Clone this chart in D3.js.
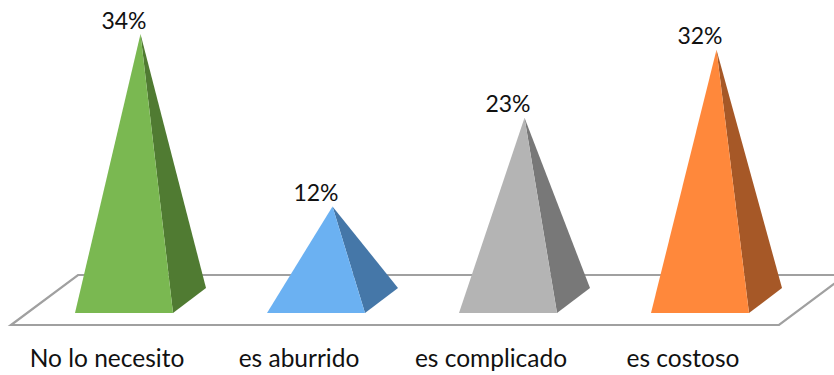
<!DOCTYPE html>
<html>
<head>
<meta charset="utf-8">
<script src="https://cdn.jsdelivr.net/npm/d3@7"></script>
<style>html,body{margin:0;padding:0;background:#fff}svg{display:block}</style>
</head>
<body>
<svg id="c" width="834" height="375"></svg>
<script>
const categories = ["No lo necesito", "es aburrido", "es complicado", "es costoso"];
const values = [34, 12, 23.3, 32];
const frontColors = ["#7ab851", "#6bb1f2", "#b4b4b4", "#ff883b"];
const sideColors = ["#507b32", "#4577a8", "#787878", "#a65827"];

const svg = d3.select("#c");
const x = d3.scaleBand().domain(categories).range([11, 779]);
const y = d3.scaleLinear().domain([0, 34]).range([300.5, 34]);

const frontY = 313, depthX = 33, depthY = 25, pyrW = 98, pyrShift = 64;
const floorSkewX = 67, floorTop = 275, floorBottom = 325;

svg.append("path")
  .attr("d", d3.line()([[x.range()[1] + floorSkewX, floorTop], [11 + floorSkewX, floorTop], [11, floorBottom], [x.range()[1], floorBottom], [x.range()[1] + floorSkewX, floorTop]]))
  .attr("fill", "#fff").attr("stroke", "#a0a0a0").attr("stroke-width", 2.2);

const line = d3.line();
const g = svg.selectAll("g.p").data(categories).join("g").attr("class", "p");
g.each(function (c, i) {
  const s = d3.select(this);
  const l = x(c) + pyrShift, r = l + pyrW;
  const apex = [l + pyrW / 2 + depthX / 2, y(values[i])];
  s.append("path").attr("d", line([[r, frontY], [r + depthX, frontY - depthY], apex]) + "Z").attr("fill", sideColors[i]);
  s.append("path").attr("d", line([[l, frontY], [r, frontY], apex]) + "Z").attr("fill", frontColors[i]);
  s.append("text").attr("x", l + pyrW / 2).attr("y", y(values[i]) - 5.5)
    .attr("text-anchor", "middle").attr("font-family", "Lato").attr("font-size", 23).attr("fill", "#111")
    .text(Math.round(values[i]) + "%");
  s.append("text").attr("x", x(c) + x.bandwidth() / 2).attr("y", 367)
    .attr("text-anchor", "middle").attr("font-family", "Lato").attr("font-size", 24.5).attr("fill", "#111")
    .text(c);
});
</script>
</body>
</html>
